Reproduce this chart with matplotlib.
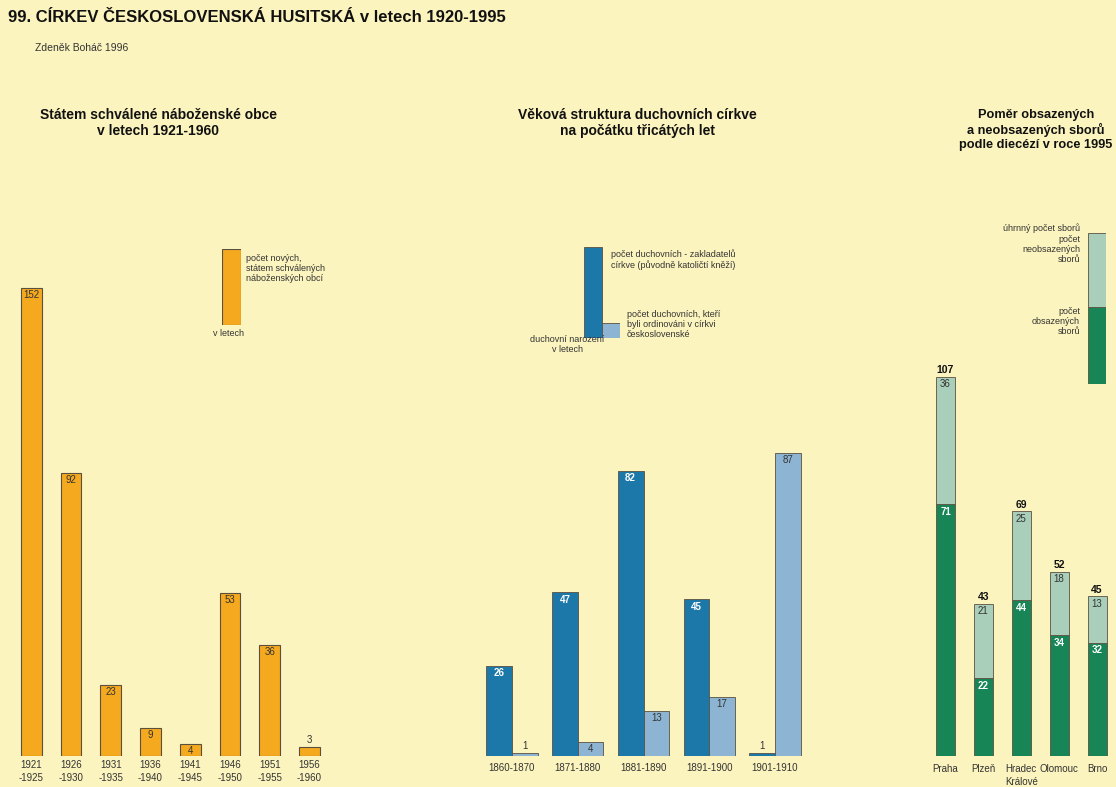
import matplotlib
matplotlib.use("Agg")
from matplotlib import pyplot as plt

plt.rcParams['font.family'] = ['Liberation Sans', 'DejaVu Sans']

# --- data ---
obce_periods = ["1921\n-1925", "1926\n-1930", "1931\n-1935", "1936\n-1940",
                "1941\n-1945", "1946\n-1950", "1951\n-1955", "1956\n-1960"]
obce_counts = [152, 92, 23, 9, 4, 53, 36, 3]

duch_periods = ["1860-1870", "1871-1880", "1881-1890", "1891-1900", "1901-1910"]
duch_zakladatele = [26, 47, 82, 45, 1]
duch_ordinovani = [1, 4, 13, 17, 87]

dieceze = ["Praha", "Plzeň", "Hradec\nKrálové", "Olomouc", "Brno"]
sbory_obsazene = [71, 22, 44, 34, 32]
sbory_neobsazene = [36, 21, 25, 18, 13]

BG = '#FCF4BE'
ORANGE = '#F5A91F'
DBLUE = '#1C78A8'
LBLUE = '#8DB5D3'
DGREEN = '#178556'
LGREEN = '#A9CFBB'
EDGE = '#5a5040'
TXT = '#333333'

W, H = 1116, 787
fig = plt.figure(figsize=(W / 100, H / 100), dpi=100, facecolor=BG)


def px_axes(l, t, r, b):
    ax = fig.add_axes([l / W, 1 - b / H, (r - l) / W, (b - t) / H])
    ax.set_facecolor('none')
    for s in ax.spines.values():
        s.set_visible(False)
    ax.tick_params(length=0)
    return ax


def ftext(x, y, s, **kw):
    kw.setdefault('color', TXT)
    return fig.text(x / W, 1 - y / H, s, **kw)


# titles
ftext(8, 18, "99. CÍRKEV ČESKOSLOVENSKÁ HUSITSKÁ v letech 1920-1995",
      fontsize=12, weight='bold', va='center', color='#111111')
ftext(35, 48, "Zdeněk Boháč 1996", fontsize=7.5, va='center')

ftext(158, 108, "Státem schválené náboženské obce\nv letech 1921-1960",
      fontsize=10, weight='bold', ha='center', va='top', linespacing=1.15,
      color='#111111')
ftext(637, 108, "Věková struktura duchovních církve\nna počátku třicátých let",
      fontsize=10, weight='bold', ha='center', va='top', linespacing=1.15,
      color='#111111')
ftext(1036, 109, "Poměr obsazených\na neobsazených sborů\npodle diecézí v roce 1995",
      fontsize=9.2, weight='bold', ha='center', va='top', linespacing=1.22,
      color='#111111')

# --- panel 1: orange bars ---
ax1 = px_axes(11.5, 263.2, 329.2, 756)
ax1.set_xlim(-0.5, 7.5)
ax1.set_ylim(0, 160)
x1 = list(range(len(obce_counts)))
ax1.bar(x1, obce_counts, width=0.52, color=ORANGE, edgecolor=EDGE, linewidth=0.8)
for xi, v in zip(x1, obce_counts):
    if v >= 4:
        ax1.annotate(str(v), (xi, v), xytext=(0, -1.5), textcoords='offset points',
                     ha='center', va='top', fontsize=7, color=TXT)
    else:
        ax1.annotate(str(v), (xi, v), xytext=(0, 1), textcoords='offset points',
                     ha='center', va='bottom', fontsize=7, color=TXT)
ax1.set_xticks(x1)
ax1.set_xticklabels(obce_periods, fontsize=7, color=TXT, linespacing=1.3)
ax1.tick_params(axis='x', pad=3)
ax1.set_yticks([])

# --- panel 2: blue pairs ---
ax2 = px_axes(471.2, 425.4, 815.8, 756)
ax2.set_xlim(-0.62, 4.62)
ax2.set_ylim(0, 95)
x2 = list(range(len(duch_periods)))
ax2.bar([x - 0.195 for x in x2], duch_zakladatele, width=0.39, color=DBLUE,
        edgecolor=EDGE, linewidth=0.6)
ax2.bar([x + 0.195 for x in x2], duch_ordinovani, width=0.39, color=LBLUE,
        edgecolor=EDGE, linewidth=0.6)
for xi, v in zip(x2, duch_zakladatele):
    if v >= 5:
        ax2.annotate(str(v), (xi - 0.195, v), xytext=(0, -2), textcoords='offset points',
                     ha='center', va='top', fontsize=7, color='white', weight='bold')
    else:
        ax2.annotate(str(v), (xi - 0.195, v), xytext=(0, 1), textcoords='offset points',
                     ha='center', va='bottom', fontsize=7, color=TXT)
for xi, v in zip(x2, duch_ordinovani):
    if v >= 4:
        ax2.annotate(str(v), (xi + 0.195, v), xytext=(0, -1.5), textcoords='offset points',
                     ha='center', va='top', fontsize=7, color=TXT)
    else:
        ax2.annotate(str(v), (xi + 0.195, v), xytext=(0, 1), textcoords='offset points',
                     ha='center', va='bottom', fontsize=7, color=TXT)
ax2.set_xticks(x2)
ax2.set_xticklabels(duch_periods, fontsize=7, color=TXT)
ax2.tick_params(axis='x', pad=5)
ax2.set_yticks([])

# --- panel 3: green stacked ---
ax3 = px_axes(922.8, 348.3, 1116, 756)
ax3.set_xlim(-0.6, 4.5)
ax3.set_ylim(0, 115)
x3 = list(range(len(dieceze)))
ax3.bar(x3, sbory_obsazene, width=0.5, color=DGREEN, edgecolor=EDGE, linewidth=0.6)
ax3.bar(x3, sbory_neobsazene, width=0.5, bottom=sbory_obsazene, color=LGREEN,
        edgecolor=EDGE, linewidth=0.6)
for xi, a, b in zip(x3, sbory_obsazene, sbory_neobsazene):
    ax3.annotate(str(a), (xi, a), xytext=(0, -2), textcoords='offset points',
                 ha='center', va='top', fontsize=7, color='white', weight='bold')
    ax3.annotate(str(b), (xi, a + b), xytext=(0, -2), textcoords='offset points',
                 ha='center', va='top', fontsize=7, color=TXT)
    ax3.annotate(str(a + b), (xi, a + b), xytext=(0, 1), textcoords='offset points',
                 ha='center', va='bottom', fontsize=7.5, color='#111111', weight='bold')
ax3.set_xticks(x3)
ax3.set_xticklabels(dieceze, fontsize=7, color=TXT, linespacing=1.3)
ax3.tick_params(axis='x', pad=6)
ax3.set_yticks([])

# --- legends ---
lg1 = px_axes(222, 249, 241, 325)
lg1.set_xlim(-0.5, 0.5)
lg1.set_ylim(0, 1)
lg1.bar([0], [1], width=1, color=ORANGE, edgecolor=EDGE, linewidth=0.8)
lg1.set_xticks([])
lg1.set_yticks([])
ftext(246, 254, "počet nových,\nstátem schválených\nnáboženských obcí",
      fontsize=6.5, va='top', linespacing=1.15)
ftext(213, 333, "v letech", fontsize=6.5, va='center')

lg2 = px_axes(584, 247, 620, 338)
lg2.set_xlim(-0.5, 1.5)
lg2.set_ylim(0, 1)
lg2.bar([0, 1], [1, 0.165], width=1, color=[DBLUE, LBLUE], edgecolor=EDGE,
        linewidth=0.6)
lg2.set_xticks([])
lg2.set_yticks([])
ftext(611, 249, "počet duchovních - zakladatelů\ncírkve (původně katoličtí kněží)",
      fontsize=6.5, va='top', linespacing=1.15)
ftext(627, 310, "počet duchovních, kteří\nbyli ordinováni v církvi\nčeskoslovenské",
      fontsize=6.5, va='top', linespacing=1.15)
ftext(567, 335, "duchovní narození\nv letech", fontsize=6.5, va='top',
      ha='center', linespacing=1.15)

lg3 = px_axes(1088, 233, 1106, 384)
lg3.set_xlim(-0.5, 0.5)
lg3.set_ylim(0, 1)
lg3.bar([0], [0.51], width=1, color=DGREEN, edgecolor=EDGE, linewidth=0.6)
lg3.bar([0], [0.49], width=1, bottom=[0.51], color=LGREEN, edgecolor=EDGE,
        linewidth=0.6)
lg3.set_xticks([])
lg3.set_yticks([])
ftext(1080, 228, "úhrnný počet sborů", fontsize=6.5, va='center', ha='right')
ftext(1080, 235, "počet\nneobsazených\nsborů", fontsize=6.5, va='top', ha='right',
      linespacing=1.15)
ftext(1080, 307, "počet\nobsazených\nsborů", fontsize=6.5, va='top', ha='right',
      linespacing=1.15)

fig.savefig("out.png", dpi=100, facecolor=BG)
